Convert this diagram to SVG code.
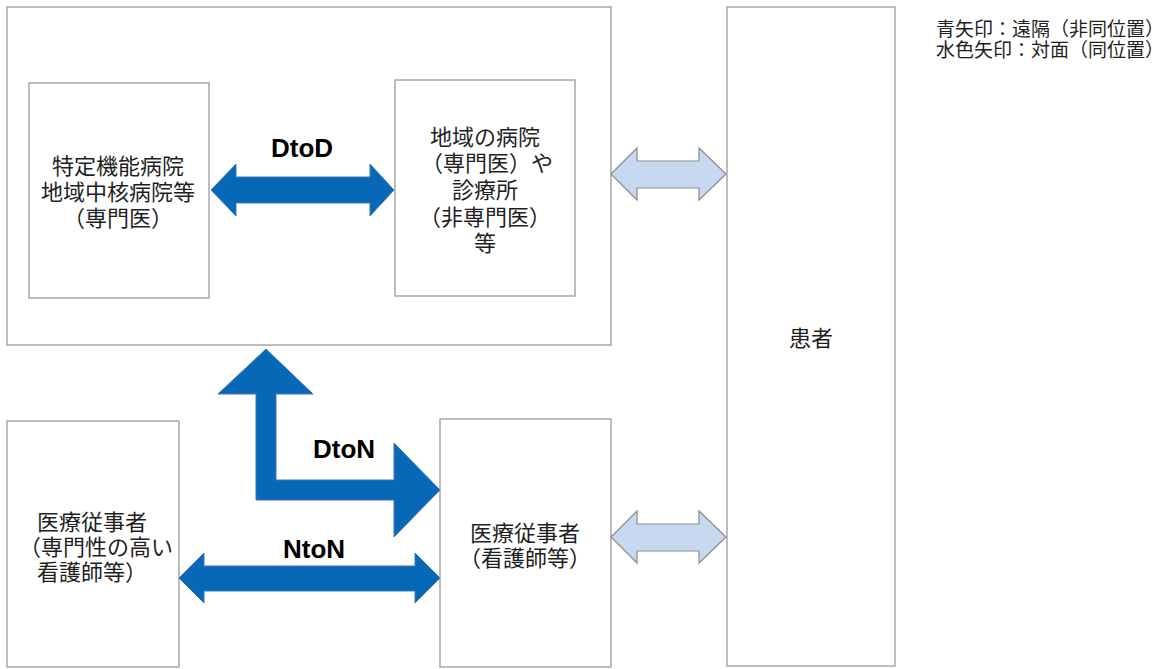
<svg xmlns="http://www.w3.org/2000/svg" width="1171" height="669" viewBox="0 0 1171 669">
<style>
.box{fill:#fff;stroke:#a6a6a6;stroke-width:1.5}
.jp{font-family:"Noto Sans CJK JP","Noto Sans",sans-serif;font-size:22px;fill:#1e1e1e}
.lbl{font-family:"Liberation Sans",Arial,sans-serif;font-weight:bold;font-size:26px;fill:#000;text-anchor:middle}
.mid{text-anchor:middle}
.blue{fill:#0868b8;stroke:#3d78b5;stroke-width:1}
.lblue{fill:#c6d9f0;stroke:#8c8c8c;stroke-width:1.2}
.leg{font-family:"Noto Sans CJK JP","Noto Sans",sans-serif;font-size:19px;fill:#1e1e1e}
</style>
<rect width="1171" height="669" fill="#fff"/>
<g id="group-doctors">
<rect class="box" x="7" y="7" width="604" height="338"/>
</g>
<g id="node-specialized-hospital">
<rect class="box" x="29" y="83" width="180" height="215"/>
<text class="jp mid" x="118" y="174">特定機能病院</text>
<text class="jp mid" x="118" y="200">地域中核病院等</text>
<text class="jp mid" x="118" y="226">（専門医）</text>
</g>
<g id="node-local-hospital">
<rect class="box" x="395" y="80" width="180" height="216"/>
<text class="jp mid" x="485" y="145">地域の病院</text>
<text class="jp mid" x="487" y="171">（専門医）や</text>
<text class="jp mid" x="485" y="198">診療所</text>
<text class="jp mid" x="485" y="225">（非専門医）</text>
<text class="jp mid" x="485" y="251">等</text>
</g>
<g id="node-patient">
<rect class="box" x="727" y="7" width="168" height="659"/>
<text class="jp mid" x="811" y="346">患者</text>
</g>
<g id="node-nurse-specialist">
<rect class="box" x="7" y="421" width="172" height="246"/>
<text class="jp" x="37" y="530">医療従事者</text>
<text class="jp" x="19" y="555">（専門性の高い</text>
<text class="jp" x="37" y="580">看護師等）</text>
</g>
<g id="node-nurse">
<rect class="box" x="440" y="419" width="171" height="248"/>
<text class="jp mid" x="525" y="541">医療従事者</text>
<text class="jp mid" x="525" y="566">（看護師等）</text>
</g>
<g id="connectors">
<polygon class="blue" points="211,190 236,164 236,177 370,177 370,164 394,190 370,216 370,203 236,203 236,216"/>
<text class="lbl" x="302" y="157">DtoD</text>
<polygon class="lblue" points="611,174 637,148 637,161 699,161 699,148 726,174 699,200 699,188 637,188 637,200"/>
<polygon class="lblue" points="611,537 637,511 637,524 699,524 699,511 726,537 699,563 699,551 637,551 637,563"/>
<polygon class="blue" points="266,349 313,394 276,394 276,480 394,480 394,443 440,490 394,537 394,500 256,500 256,394 218,394"/>
<text class="lbl" x="344" y="458">DtoN</text>
<polygon class="blue" points="179,578 204,553 204,566 415,566 415,553 440,578 415,603 415,591 204,591 204,603"/>
<text class="lbl" x="314" y="558">NtoN</text>
</g>
<g id="legend">
<text class="leg" x="936" y="36">青矢印：遠隔（非同位置）</text>
<text class="leg" x="936" y="57">水色矢印：対面（同位置）</text>
</g>
</svg>
